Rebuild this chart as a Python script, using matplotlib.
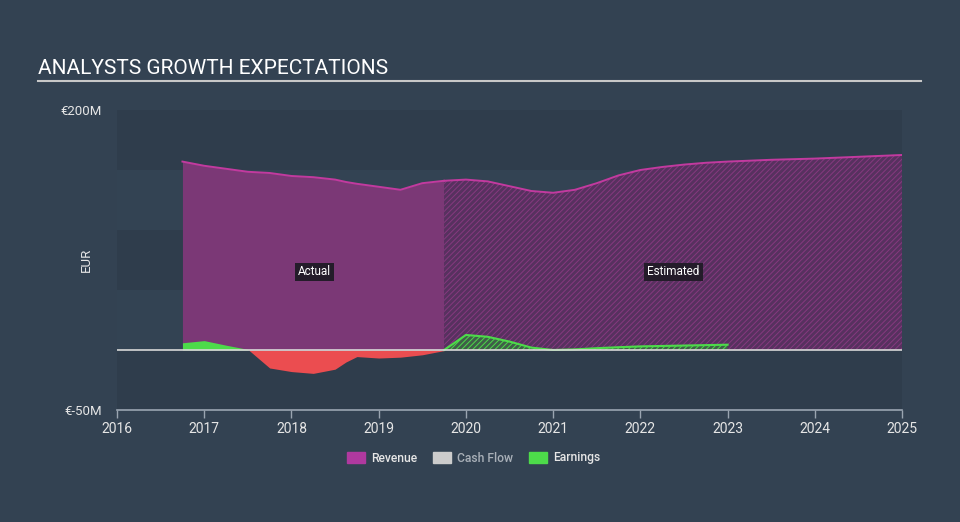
#!/usr/bin/env python3
"""Analysts growth expectations: revenue and earnings, actual vs estimated."""

import matplotlib
matplotlib.use("Agg")
import matplotlib.pyplot as plt
import numpy as np
from matplotlib.patches import Patch

# actual figures (EUR millions)
act_years = [2016.75, 2017.0, 2017.25, 2017.5, 2017.75, 2018.0, 2018.25, 2018.5,
             2018.625, 2018.75, 2019.0, 2019.25, 2019.5, 2019.75]
act_revenue = [157, 153.5, 151, 148.5, 147.5, 145, 144, 142,
               140, 138.5, 136, 133.5, 139, 141]
act_earnings = [6, 7.8, 4, 0.5, -15, -18, -19.5, -16,
                -10, -5.5, -6.7, -6, -4, -0.5]

# analyst estimates (EUR millions)
est_years = [2019.75, 2020.0, 2020.25, 2020.5, 2020.75, 2021.0, 2021.25, 2021.5,
             2021.75, 2022.0, 2022.25, 2022.5, 2022.75, 2023.0, 2023.5, 2024.0,
             2024.5, 2025.0]
est_revenue = [141, 142, 140.5, 136.5, 132.5, 131, 133.5, 139,
               145.5, 150, 152.5, 154.5, 156, 157, 158.5, 159.5,
               161, 162.5]
est_earn_years = [2019.75, 2020.0, 2020.25, 2020.5, 2020.75, 2021.0, 2021.25,
                  2021.5, 2021.75, 2022.0, 2022.5, 2023.0]
est_earnings = [0, 12.5, 11, 7, 2, -0.3, 0.5, 1.5, 2.3, 3, 3.7, 4.4]

x_ticks = list(range(2016, 2026))
y_ticks = [-50, 200]
y_labels = ["€-50M", "€200M"]

BG = "#334252"
BAND_DARK = "#2f3d4c"
BAND_LIGHT = "#334353"
REV_LINE = "#c23a9f"
REV_FILL = "#7b3876"
GREEN = "#4ddb4a"
RED = "#eb4d50"
TEXT = "#e6e6e6"

plt.rcParams["font.family"] = ["Roboto", "DejaVu Sans"]
plt.rcParams["hatch.linewidth"] = 0.7


def main() -> None:
    fig = plt.figure(figsize=(9.6, 5.22), dpi=100, facecolor=BG)
    ax = fig.add_axes([0.1219, 0.2146, 0.8177, 0.5747])
    ax.set_facecolor(BG)

    # alternating bands
    for i, lo in enumerate(range(-50, 200, 50)):
        ax.axhspan(lo, lo + 50, color=BAND_DARK if i % 2 == 0 else BAND_LIGHT,
                   lw=0, zorder=0)

    # revenue
    ax.fill_between(act_years, 0, act_revenue, color=REV_FILL, lw=0, zorder=2)
    ax.fill_between(est_years, 0, est_revenue, facecolor="#57315f",
                    edgecolor="#86397f", hatch="//////", lw=0, zorder=2)
    ax.plot(act_years, act_revenue, color=REV_LINE, lw=1.4, zorder=3)
    ax.plot(est_years, est_revenue, color=REV_LINE, lw=1.4, zorder=3)

    # earnings actual
    ae = np.array(act_earnings, dtype=float)
    ax.fill_between(act_years, 0, ae, where=ae >= 0, interpolate=True,
                    color=GREEN, lw=0, zorder=4)
    ax.fill_between(act_years, 0, ae, where=ae <= 0, interpolate=True,
                    color=RED, lw=0, zorder=4)

    # earnings estimated
    ee = np.array(est_earnings, dtype=float)
    ax.fill_between(est_earn_years, 0, ee, where=ee >= 0, interpolate=True,
                    facecolor="#3f5f48", edgecolor=GREEN, hatch="//////",
                    lw=0, zorder=4)
    ax.plot(est_earn_years, np.clip(ee, 0, None), color=GREEN, lw=1.5, zorder=5)

    ax.axhline(0, color="#d8d8d8", lw=1.2, zorder=6)

    ax.text(2018.26, 65, "Actual", color="white", fontsize=8.5, ha="center",
            va="center", zorder=7,
            bbox=dict(boxstyle="square,pad=0.25", fc="#241c2a", ec="none"))
    ax.text(2022.38, 65, "Estimated", color="white", fontsize=8.5, ha="center",
            va="center", zorder=7,
            bbox=dict(boxstyle="square,pad=0.25", fc="#241c2a", ec="none"))

    ax.set_xlim(2016, 2025)
    ax.set_ylim(-50, 200)
    ax.set_xticks(x_ticks)
    ax.set_xticklabels([str(t) for t in x_ticks])
    ax.set_yticks(y_ticks)
    ax.set_yticklabels(y_labels)
    ax.tick_params(axis="x", colors="#9aa5b1", labelcolor=TEXT, labelsize=10,
                   length=6, width=1, pad=3)
    ax.tick_params(axis="y", length=0, labelcolor=TEXT, labelsize=9.5, pad=11)
    for side in ["top", "right", "left"]:
        ax.spines[side].set_visible(False)
    ax.spines["bottom"].set_color("#9aa5b1")
    ax.spines["bottom"].set_linewidth(1.2)
    ax.set_ylabel("EUR", color=TEXT, fontsize=9.5)
    ax.yaxis.set_label_coords(-0.031, 0.5)

    # title and rule
    fig.text(38 / 960, 1 - 68 / 522, "ANALYSTS GROWTH EXPECTATIONS", color="white",
             fontsize=15, ha="left", va="center")
    fig.add_artist(plt.Line2D([38 / 960, 921 / 960], [1 - 81 / 522, 1 - 81 / 522],
                              color="#c8c8c8", lw=1.5))

    handles = [Patch(color="#b0399f", label="Revenue"),
               Patch(color="#cccccc", label="Cash Flow"),
               Patch(color=GREEN, label="Earnings")]
    leg = fig.legend(handles=handles, loc="center", bbox_to_anchor=(0.493, 1 - 458 / 522),
                     ncol=3, frameon=False, handlelength=1.5,
                     handleheight=1.0, columnspacing=1.3, handletextpad=0.5,
                     prop={"weight": "medium", "size": 8.7})
    for txt, col in zip(leg.get_texts(), [TEXT, "#a9b0b8", TEXT]):
        txt.set_color(col)

    fig.savefig("out.png", dpi=100, facecolor=BG)
    plt.close(fig)


if __name__ == "__main__":
    main()
